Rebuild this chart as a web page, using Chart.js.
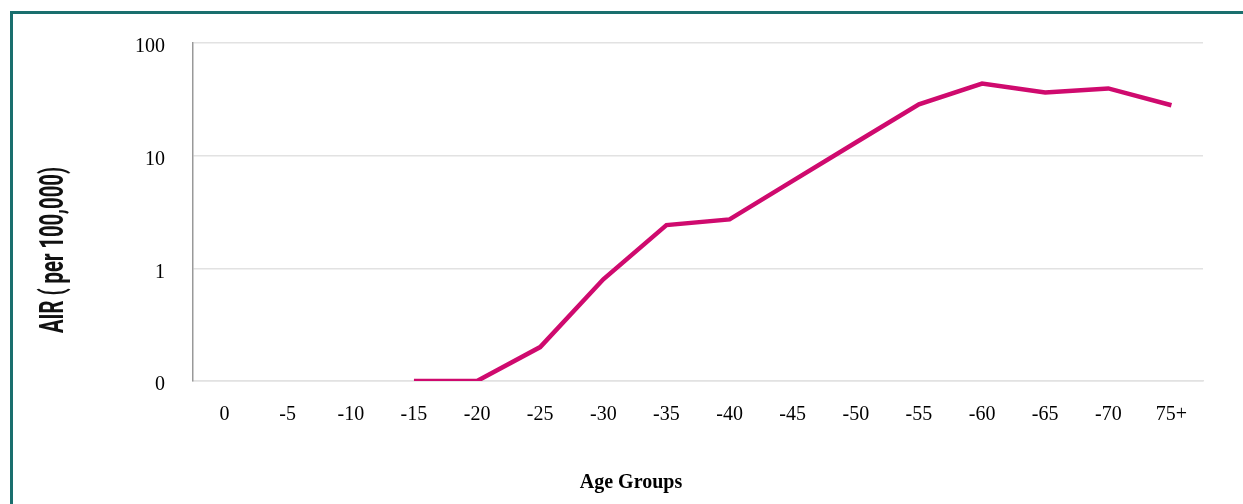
<!DOCTYPE html>
<html>
<head>
<meta charset="utf-8">
<title>AIR by age group</title>
<script src="https://cdn.jsdelivr.net/npm/chart.js@4/dist/chart.umd.min.js"></script>
<style>
	html, body {
		margin: 0;
		padding: 0;
		background: #fff;
		overflow: hidden;
	}
	#frame {
		position: absolute;
		left: 10px;
		top: 11px;
		right: -10px;
		bottom: -10px;
		border-left: 3px solid #1a6f6e;
		border-top: 3px solid #1a6f6e;
	}
	#myChart {
		position: absolute;
		left: 0;
		top: 0;
	}
</style>
</head>
<body>
<div id="frame"></div>
<canvas id="myChart" width="1243" height="504"></canvas>
<script>
// data
const ageGroups = ['0', '-5', '-10', '-15', '-20', '-25', '-30', '-35', '-40', '-45', '-50', '-55', '-60', '-65', '-70', '75+']
const airValues = [null, null, null, 0.1, 0.1, 0.2, 0.8, 2.42, 2.72, 5.97, 13.1, 28.5, 43.7, 36.4, 39.5, 28]
const yTickValues = [0.1, 1, 10, 100]
const yTickLabels = ['0', '1', '10', '100']

const xTitle = 'Age Groups'
const yTitle = 'AIR ( per 100,000)'

// axis titles drawn by hand so they can sit where the original has them
const axisTitles = {
	id: 'axisTitles',
	afterDraw(chart) {
		const ctx = chart.ctx
		const area = chart.chartArea

		ctx.save()
		ctx.fillStyle = '#000'
		ctx.font = 'bold 20px "Liberation Serif", "Times New Roman", serif'
		ctx.textAlign = 'center'
		ctx.textBaseline = 'alphabetic'
		ctx.fillText(xTitle, area.left + 438, 488)
		ctx.restore()

		// condensed look: squeeze the text to the length it has in the original
		ctx.save()
		ctx.fillStyle = '#111'
		ctx.font = 'bold 33px Roboto, "DejaVu Sans", sans-serif'
		const w = ctx.measureText(yTitle).width
		ctx.translate(63, 250)
		ctx.rotate(-Math.PI / 2)
		ctx.scale(166 / w, 1)
		ctx.textAlign = 'center'
		ctx.textBaseline = 'alphabetic'
		ctx.fillText(yTitle, 0, 0)
		ctx.restore()
	},
}

const ctx = document.getElementById('myChart')
const chart = new Chart(ctx, {
	type: 'line',
	data: {
		labels: ageGroups,
		datasets: [
			{
				label: 'AIR',
				data: airValues,
				borderColor: '#cf0a6e',
				borderWidth: 4.5,
				pointRadius: 0,
				tension: 0,
				spanGaps: false,
			},
		],
	},
	options: {
		responsive: false,
		animation: false,
		layout: {
			padding: {top: 43, right: 40, bottom: 0, left: 0},
		},
		plugins: {
			legend: {display: false},
			tooltip: {enabled: false},
		},
		scales: {
			x: {
				type: 'category',
				offset: true,
				grid: {display: false, drawTicks: false},
				border: {display: true, color: '#e2e2e2', width: 1.5},
				ticks: {
					color: '#000',
					padding: 22,
					maxRotation: 0,
					autoSkip: false,
					font: {family: '"Liberation Serif", "Times New Roman", serif', size: 20},
				},
				afterFit(scale) {
					scale.height = 123
				},
			},
			y: {
				type: 'logarithmic',
				min: 0.1,
				max: 100,
				grid: {color: '#e2e2e2', lineWidth: 1.5, drawTicks: false},
				border: {display: true, color: '#999', width: 1.5},
				afterBuildTicks(scale) {
					scale.ticks = yTickValues.map((v) => ({value: v, major: true}))
				},
				ticks: {
					color: '#000',
					padding: 28,
					labelOffset: 4,
					font: {family: '"Liberation Serif", "Times New Roman", serif', size: 20},
					callback(value) {
						const i = yTickValues.indexOf(value)
						return i >= 0 ? yTickLabels[i] : ''
					},
				},
				afterFit(scale) {
					scale.width = 193
				},
			},
		},
	},
	plugins: [axisTitles],
})
</script>
</body>
</html>
